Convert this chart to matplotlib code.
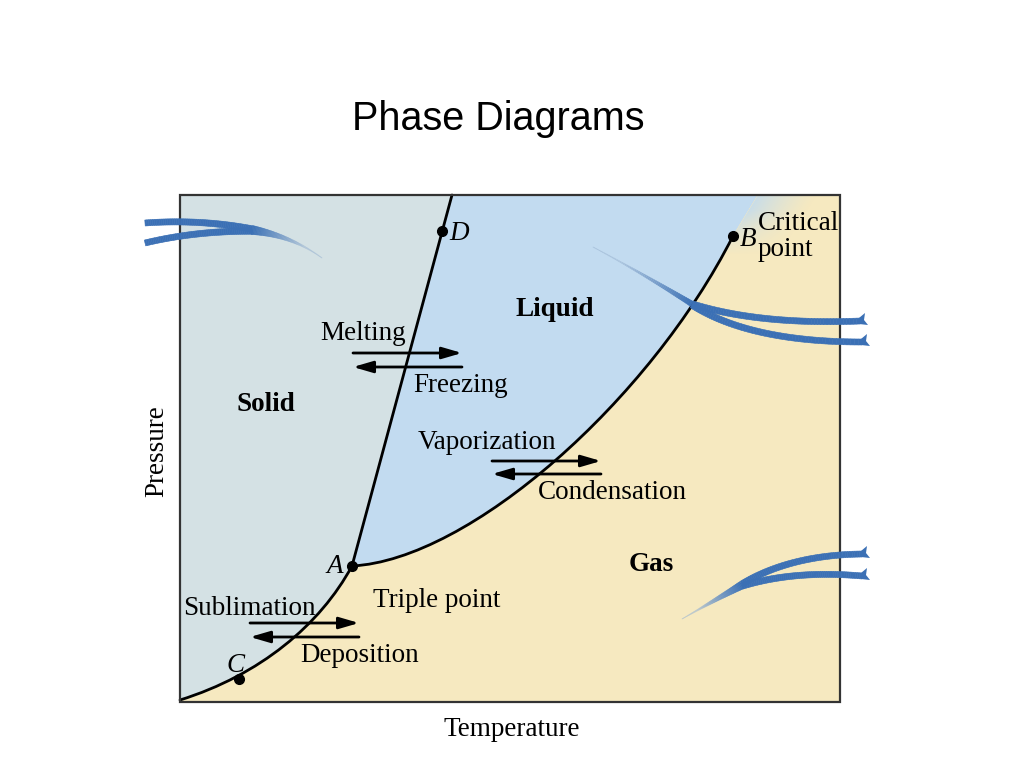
import numpy as np
import matplotlib
matplotlib.use("Agg")
import matplotlib.pyplot as plt
from matplotlib.path import Path
from matplotlib.patches import PathPatch, FancyArrowPatch, Polygon
from matplotlib.collections import PolyCollection

# drawing works in pixel coordinates of the 1024x768 slide (y grows downward)
BOX = (180, 195, 840, 702)  # left, top, right, bottom

# phase boundaries (cubic bezier control points / straight line)
SUBLIMATION = [(180, 700), (260, 675), (320, 625), (352, 566)]
MELTING = [(352, 566), (452, 195)]
VAPORIZATION = [(352, 566), (470, 560), (650, 400), (733, 236)]
CRIT_EXT_TOP = (758, 195)

POINT_NAMES = ["A", "B", "C", "D"]
POINT_XY = [(352, 566), (733, 236), (239, 679), (442, 231)]
POINT_LABEL_XY = [(326, 573), (740, 246), (226, 672), (449, 240)]

REGION_NAMES = ["Solid", "Liquid", "Gas"]
REGION_XY = [(237, 411), (516, 316), (629, 571)]

TEXTS = ["Melting", "Freezing", "Vaporization", "Condensation",
         "Sublimation", "Deposition", "Triple point", "Critical", "point"]
TEXT_XY = [(320, 340), (413, 392), (418, 449), (538, 499),
           (183, 615), (300, 662), (373, 607), (758, 230), (758, 256)]

# pairs of arrows: (x_start, x_end, y_forward, y_back)
ARROWS = [(353, 462, 353, 367), (492, 601, 461, 474), (250, 359, 623, 637)]

# decorative swooshes: two head strands joining into one tapered tail
# (quadratic control points: head -> merge, merge -> tail tip)
SWOOSH_STRANDS = [
    [[(145, 223), (200, 219), (252, 229)], [(145, 243), (195, 231), (252, 231)]],
    [[(860, 321), (760, 325), (692, 304)], [(862, 342), (750, 342), (692, 305)]],
    [[(862, 554), (790, 555), (742, 584)], [(862, 576), (795, 570), (742, 586)]],
]
SWOOSH_TAILS = [
    [(252, 230), (292, 236), (322, 258)],
    [(692, 304), (640, 272), (593, 247)],
    [(742, 585), (708, 604), (682, 619)],
]
TAIL_WIDTH = [9, 5.5, 8]
SWOOSH_HEADS = [False, True, True]

SOLID_C = "#d4e1e4"
LIQUID_C = "#c2dbf0"
GAS_C = "#f6e9c0"
BLUE = np.array([0.23, 0.44, 0.71])
TAIL = np.array([0.62, 0.72, 0.83])

serif = "Liberation Serif"
FS = 19.5

fig = plt.figure(figsize=(10.24, 7.68), dpi=100)
ax = fig.add_axes([0, 0, 1, 1])
ax.set_xlim(0, 1024)
ax.set_ylim(768, 0)
ax.axis("off")

L, T, R, B = BOX
C4 = [Path.CURVE4] * 3

# region fills
solid = Path([(L, T), MELTING[1], MELTING[0]] + SUBLIMATION[::-1][1:] + [(L, T)],
             [Path.MOVETO, Path.LINETO, Path.LINETO] + C4 + [Path.CLOSEPOLY])
liquid = Path([MELTING[1], MELTING[0]] + VAPORIZATION[1:] + [CRIT_EXT_TOP, MELTING[1]],
              [Path.MOVETO, Path.LINETO] + C4 + [Path.LINETO, Path.CLOSEPOLY])
gas = Path([(L, B)] + SUBLIMATION + VAPORIZATION[1:] + [CRIT_EXT_TOP, (R, T), (R, B), (L, B)],
           [Path.MOVETO, Path.LINETO] + C4 + C4 + [Path.LINETO] * 3 + [Path.CLOSEPOLY])
for p, c in [(solid, SOLID_C), (liquid, LIQUID_C), (gas, GAS_C)]:
    ax.add_patch(PathPatch(p, facecolor=c, edgecolor=c, lw=0.5, zorder=1))

# soft blue fade beyond the critical point
gx, gy = np.meshgrid(np.linspace(680, R, 160), np.linspace(T, 265, 70))
bx, by = VAPORIZATION[-1]
slope = (CRIT_EXT_TOP[0] - bx) / (by - CRIT_EXT_TOP[1])
dx = gx - (bx + (by - gy) * slope)
alpha = np.clip(1 - dx / 60, 0, 1) ** 1.3 * np.clip((255 - gy) / 45, 0, 1)
rgba = np.zeros(gx.shape + (4,))
rgba[..., :3] = matplotlib.colors.to_rgb("#c9dde8")
rgba[..., 3] = alpha
gpatch = PathPatch(gas, facecolor="none", edgecolor="none")
ax.add_patch(gpatch)
im = ax.imshow(rgba, extent=(680, R, 265, T), origin="upper", zorder=2,
               interpolation="bilinear", aspect="auto")
im.set_clip_path(gpatch)

# phase boundary curves
for p in [Path(SUBLIMATION, [Path.MOVETO] + C4), Path(MELTING),
          Path(VAPORIZATION, [Path.MOVETO] + C4)]:
    ax.add_patch(PathPatch(p, facecolor="none", edgecolor="black", lw=2, zorder=4,
                           capstyle="round"))

# frame
ax.add_patch(plt.Rectangle((L, T), R - L, B - T, fill=False, edgecolor="#333333",
                           lw=1.6, zorder=5))

# points and labels
for name, (x, y), (lx, ly) in zip(POINT_NAMES, POINT_XY, POINT_LABEL_XY):
    ax.plot(x, y, "o", color="black", ms=7, zorder=6)
    ax.text(lx, ly, name, fontsize=FS, family=serif, style="italic",
            va="baseline", ha="left", zorder=6)

for name, (x, y) in zip(REGION_NAMES, REGION_XY):
    ax.text(x, y, name, fontsize=FS, family=serif, weight="bold", va="baseline", zorder=6)

for s, (x, y) in zip(TEXTS, TEXT_XY):
    ax.text(x, y, s, fontsize=FS, family=serif, va="baseline", zorder=6)

# process arrows
for x0, x1, yf, yb in ARROWS:
    for a, b, y in [(x0, x1, yf), (x1, x0, yb)]:
        ax.add_patch(FancyArrowPatch((a, y), (b, y), arrowstyle="-|>,head_length=12,head_width=3.5",
                                     color="black", lw=2, shrinkA=0, shrinkB=0,
                                     mutation_scale=1, zorder=6))


def quad(p, n=60):
    t = np.linspace(0, 1, n)[:, None]
    p0, p1, p2 = (np.array(q, float) for q in p)
    pts = (1 - t) ** 2 * p0 + 2 * (1 - t) * t * p1 + t ** 2 * p2
    d = 2 * (1 - t) * (p1 - p0) + 2 * t * (p2 - p1)
    nrm = np.column_stack([-d[:, 1], d[:, 0]]) / np.linalg.norm(d, axis=1)[:, None]
    return pts, nrm


def band(p, w0, w1, c0, c1, a0, a1, wpow=1.0):
    pts, nrm = quad(p)
    n = len(pts)
    f = np.linspace(0, 1, n)
    w = (w1 + (w0 - w1) * (1 - f) ** wpow)[:, None] / 2
    left, right = pts + nrm * w, pts - nrm * w
    polys, cols = [], []
    for i in range(n - 1):
        polys.append([left[i], left[i + 1], right[i + 1], right[i]])
        g = min(1.0, 1.4 * f[i])
        c = c0 * (1 - g) + c1 * g
        cols.append((*c, a0 * (1 - g) + a1 * g))
    ax.add_collection(PolyCollection(polys, facecolors=cols, edgecolors=cols,
                                     lw=0.4, zorder=7))


for strands, tail, tw, head in zip(SWOOSH_STRANDS, SWOOSH_TAILS, TAIL_WIDTH, SWOOSH_HEADS):
    for p in strands:
        band(p, 6, 6.5, BLUE, BLUE, 1, 1)
        if head:
            x, y = p[0]
            ax.add_patch(Polygon([(x - 1, y - 3), (x + 5, y - 8), (x + 4, y - 1),
                                  (x + 8, y + 4), (x - 1, y + 3)],
                                 closed=True, color=BLUE, lw=0, zorder=7))
    band(tail, tw, 0.4, BLUE, TAIL, 1, 0.4, wpow=1.6)

# axis titles and slide title
ax.text(512, 736, "Temperature", fontsize=FS, family=serif, ha="center", va="baseline")
ax.text(157, 451, "Pressure", fontsize=FS, family=serif, ha="center", va="center",
        rotation=90)
ax.text(498, 130, "Phase Diagrams", fontsize=28.5, family="Liberation Sans",
        ha="center", va="baseline")

fig.savefig("out.png", dpi=100)
